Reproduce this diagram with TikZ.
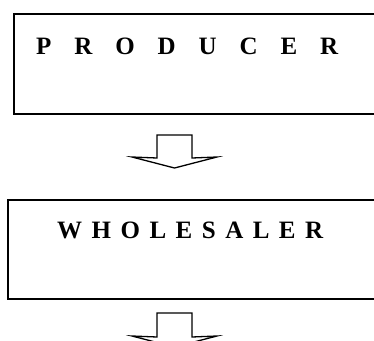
\documentclass[tikz,border=0pt]{standalone}
\usepackage{fontspec}
\setmainfont{Liberation Serif}
\begin{document}
\begin{tikzpicture}[x=1pt,y=-1pt,
  box/.style={draw=black, line width=1.6pt, rectangle, inner sep=0pt, anchor=north west},
  label/.style={anchor=base west, inner sep=0pt, font=\bfseries\fontsize{25}{30}\selectfont},
  blockarrow/.style={draw=black, line width=1.3pt, fill=white, line join=miter}]
\useasboundingbox (0,0) rectangle (374,340);
% boxes
\node[box, minimum width=380pt, minimum height=100pt] (producer) at (13,13) {};
\node[box, minimum width=380pt, minimum height=99pt] (wholesaler) at (7,199) {};
% labels
\node[label] (ptext) at (36,54.5) {\makebox[302pt][s]{P R O D U C E R}};
\node[label] (wtext) at (57,238.5) {\makebox[266pt][s]{W\hfill H\hfill O\hfill L\hfill E\hfill S\hfill A\hfill L\hfill E\hfill R}};
% block arrows
\coordinate (a1) at (174.5,135);
\draw[blockarrow] ([xshift=-17.5pt]a1) -- ([xshift=17.5pt]a1) -- ([xshift=17.5pt,yshift=-23pt]a1)
  -- ([xshift=42.5pt,yshift=-22pt]a1) -- ([yshift=-33pt]a1) -- ([xshift=-42.5pt,yshift=-22pt]a1)
  -- ([xshift=-17.5pt,yshift=-23pt]a1) -- cycle;
\coordinate (a2) at (174.5,313);
\draw[blockarrow] ([xshift=-17.5pt]a2) -- ([xshift=17.5pt]a2) -- ([xshift=17.5pt,yshift=-24pt]a2)
  -- ([xshift=42.5pt,yshift=-23pt]a2) -- ([yshift=-34pt]a2) -- ([xshift=-42.5pt,yshift=-23pt]a2)
  -- ([xshift=-17.5pt,yshift=-24pt]a2) -- cycle;
\end{tikzpicture}
\end{document}
